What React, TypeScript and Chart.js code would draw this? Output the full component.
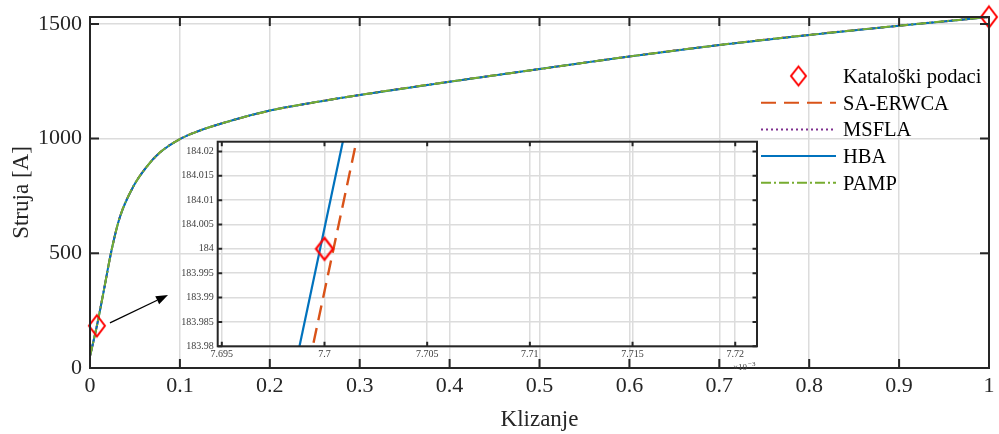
import React, { useEffect, useRef } from 'react';
import { Chart, registerables } from 'chart.js';

Chart.register(...registerables);

// ---------------- data (main plot) ----------------
const slip = [0, 0.0077, 0.015, 0.024, 0.033, 0.048, 0.063, 0.078, 0.1, 0.12, 0.15, 0.2, 0.25, 0.3, 0.4, 0.5, 0.6, 0.7, 0.8, 0.9, 1.0];
const saErwcaCurrent = [52, 184, 330, 514, 655, 790, 877, 940, 998, 1032, 1070, 1122, 1158, 1190, 1248, 1303, 1358, 1408, 1452, 1492, 1530];
const msflaCurrent = [52, 184, 330, 514, 655, 790, 877, 940, 998, 1032, 1070, 1122, 1158, 1190, 1248, 1303, 1358, 1408, 1452, 1492, 1530];
const hbaCurrent = [52, 184, 330, 514, 655, 790, 877, 940, 998, 1032, 1070, 1122, 1158, 1190, 1248, 1303, 1358, 1408, 1452, 1492, 1530];
const pampCurrent = [52, 184, 330, 514, 655, 790, 877, 940, 998, 1032, 1070, 1122, 1158, 1190, 1248, 1303, 1358, 1408, 1452, 1492, 1530];
const catalogSlip = [0.0077, 1.0];
const catalogCurrent = [184, 1530];

const xTicks = [0, 0.1, 0.2, 0.3, 0.4, 0.5, 0.6, 0.7, 0.8, 0.9, 1];
const xTickLabels = ['0', '0.1', '0.2', '0.3', '0.4', '0.5', '0.6', '0.7', '0.8', '0.9', '1'];
const yTicks = [0, 500, 1000, 1500];
const yTickLabels = ['0', '500', '1000', '1500'];

// arrow annotation (data units: slip, current)
const arrowSlip = [0.0222, 0.0868];
const arrowCurrent = [197, 318];

// ---------------- data (inset, slip in 1e-3) ----------------
const insetHbaSlip = [7.6985, 7.7015];
const insetHbaCurrent = [183.9744, 184.0341];
const insetSaErwcaSlip = [7.699, 7.702];
const insetSaErwcaCurrent = [183.9715, 184.0309];
const insetCatalogSlip = [7.7];
const insetCatalogCurrent = [184];

const insetXTicks = [7.695, 7.7, 7.705, 7.71, 7.715, 7.72];
const insetXTickLabels = ['7.695', '7.7', '7.705', '7.71', '7.715', '7.72'];
const insetYTicks = [183.98, 183.985, 183.99, 183.995, 184, 184.005, 184.01, 184.015, 184.02];
const insetYTickLabels = ['183.98', '183.985', '183.99', '183.995', '184', '184.005', '184.01', '184.015', '184.02'];

const FONT = "'Liberation Serif', 'DejaVu Serif', serif";
const AX = '#262626';
const GRID = '#dcdcdc';
const C_SA = '#D95319';
const C_MS = '#7E2F8E';
const C_HBA = '#0072BD';
const C_PAMP = '#77AC30';
const C_CAT = '#FF0000';

function makeDiamond(w: number, h: number, lw: number): HTMLCanvasElement {
  const c = document.createElement('canvas');
  c.width = Math.ceil(w + lw * 2 + 2);
  c.height = Math.ceil(h + lw * 2 + 2);
  const g = c.getContext('2d')!;
  const cx = c.width / 2, cy = c.height / 2;
  g.strokeStyle = C_CAT;
  g.lineWidth = lw;
  g.beginPath();
  g.moveTo(cx, cy - h / 2);
  g.lineTo(cx + w / 2, cy);
  g.lineTo(cx, cy + h / 2);
  g.lineTo(cx - w / 2, cy);
  g.closePath();
  g.stroke();
  return c;
}

const pts = (xs: number[], ys: number[]) => xs.map((x, i) => ({ x, y: ys[i] }));

const zeroPadH = (s: any, h: number) => { s.height = h; s.paddingLeft = 0; s.paddingRight = 0; };
const zeroPadV = (s: any, w: number) => { s.width = w; s.paddingTop = 0; s.paddingBottom = 0; };

export default function App() {
  const mainRef = useRef<HTMLCanvasElement>(null);
  const insetRef = useRef<HTMLCanvasElement>(null);

  useEffect(() => {
    const diamond = makeDiamond(16, 21, 2);
    const legendDiamond = makeDiamond(15, 19, 2);

    const legendItems = [
      { label: 'Katalo\u0161ki podaci', marker: true, color: C_CAT, dash: [] as number[] },
      { label: 'SA-ERWCA', marker: false, color: C_SA, dash: [15, 8] },
      { label: 'MSFLA', marker: false, color: C_MS, dash: [2, 3] },
      { label: 'HBA', marker: false, color: C_HBA, dash: [] as number[] },
      { label: 'PAMP', marker: false, color: C_PAMP, dash: [10, 3, 2, 3] },
    ];

    const mainDecor = {
      id: 'mainDecor',
      afterDraw(chart: any) {
        const { ctx, chartArea: a, scales } = chart;
        const sx = scales.x, sy = scales.y;
        ctx.save();
        // frame & inward ticks
        ctx.strokeStyle = AX;
        ctx.lineWidth = 2;
        ctx.setLineDash([]);
        ctx.beginPath();
        xTicks.forEach((v) => {
          const px = sx.getPixelForValue(v);
          ctx.moveTo(px, a.bottom); ctx.lineTo(px, a.bottom - 9);
          ctx.moveTo(px, a.top); ctx.lineTo(px, a.top + 9);
        });
        yTicks.forEach((v) => {
          const py = sy.getPixelForValue(v);
          ctx.moveTo(a.left, py); ctx.lineTo(a.left + 9, py);
          ctx.moveTo(a.right, py); ctx.lineTo(a.right - 9, py);
        });
        ctx.stroke();
        ctx.strokeRect(a.left, a.top, a.right - a.left, a.bottom - a.top);

        // arrow
        const x0 = sx.getPixelForValue(arrowSlip[0]);
        const y0 = sy.getPixelForValue(arrowCurrent[0]);
        const x1 = sx.getPixelForValue(arrowSlip[1]);
        const y1 = sy.getPixelForValue(arrowCurrent[1]);
        const ang = Math.atan2(y1 - y0, x1 - x0);
        const hl = 12, hw = 4.5;
        ctx.strokeStyle = '#000';
        ctx.fillStyle = '#000';
        ctx.lineWidth = 1.3;
        ctx.beginPath();
        ctx.moveTo(x0, y0);
        ctx.lineTo(x1 - hl * Math.cos(ang), y1 - hl * Math.sin(ang));
        ctx.stroke();
        ctx.beginPath();
        ctx.moveTo(x1, y1);
        ctx.lineTo(x1 - hl * Math.cos(ang) + hw * Math.sin(ang), y1 - hl * Math.sin(ang) - hw * Math.cos(ang));
        ctx.lineTo(x1 - hl * Math.cos(ang) - hw * Math.sin(ang), y1 - hl * Math.sin(ang) + hw * Math.cos(ang));
        ctx.closePath();
        ctx.fill();

        // legend
        const lx0 = a.right - 228;
        const lx1 = a.right - 153;
        const tx = a.right - 146;
        const rowY0 = a.top + 59;
        const rowStep = 26.7;
        ctx.font = `20.5px ${FONT}`;
        ctx.textAlign = 'left';
        ctx.textBaseline = 'alphabetic';
        legendItems.forEach((it, i) => {
          const cy = rowY0 + i * rowStep;
          if (it.marker) {
            const mx = (lx0 + lx1) / 2;
            ctx.drawImage(legendDiamond, mx - legendDiamond.width / 2, cy - legendDiamond.height / 2);
          } else {
            ctx.strokeStyle = it.color;
            ctx.lineWidth = 2;
            ctx.setLineDash(it.dash);
            ctx.beginPath();
            ctx.moveTo(lx0, cy);
            ctx.lineTo(lx1, cy);
            ctx.stroke();
            ctx.setLineDash([]);
          }
          ctx.fillStyle = '#000';
          ctx.fillText(it.label, tx, cy + 7);
        });
        ctx.restore();
      },
    };

    const insetDecor = {
      id: 'insetDecor',
      afterDraw(chart: any) {
        const { ctx, chartArea: a, scales } = chart;
        const sx = scales.x, sy = scales.y;
        ctx.save();
        ctx.strokeStyle = AX;
        ctx.lineWidth = 2;
        ctx.beginPath();
        insetXTicks.forEach((v) => {
          const px = sx.getPixelForValue(v);
          ctx.moveTo(px, a.bottom); ctx.lineTo(px, a.bottom - 4.5);
          ctx.moveTo(px, a.top); ctx.lineTo(px, a.top + 4.5);
        });
        insetYTicks.forEach((v) => {
          const py = sy.getPixelForValue(v);
          ctx.moveTo(a.left, py); ctx.lineTo(a.left + 4.5, py);
          ctx.moveTo(a.right, py); ctx.lineTo(a.right - 4.5, py);
        });
        ctx.stroke();
        ctx.strokeRect(a.left, a.top, a.right - a.left, a.bottom - a.top);
        // exponent label
        ctx.fillStyle = '#444';
        ctx.textBaseline = 'alphabetic';
        ctx.textAlign = 'left';
        ctx.font = `9px ${FONT}`;
        const ex = a.right - 24;
        ctx.fillText('\u00d710', ex, a.bottom + 24);
        ctx.font = `7px ${FONT}`;
        ctx.fillText('\u22123', ex + 15, a.bottom + 20);
        ctx.restore();
      },
    };

    const main = new Chart(mainRef.current!, {
      type: 'line',
      data: {
        datasets: [
          {
            label: 'Katalo\u0161ki podaci',
            data: pts(catalogSlip, catalogCurrent),
            showLine: false,
            pointStyle: diamond as any,
            pointRadius: 9,
            clip: false as any,
          },
          {
            label: 'PAMP',
            data: pts(slip, pampCurrent),
            borderColor: C_PAMP,
            borderWidth: 2,
            borderDash: [10, 3, 2, 3],
            pointRadius: 0,
            cubicInterpolationMode: 'monotone',
          },
          {
            label: 'HBA',
            data: pts(slip, hbaCurrent),
            borderColor: C_HBA,
            borderWidth: 2,
            pointRadius: 0,
            cubicInterpolationMode: 'monotone',
          },
          {
            label: 'MSFLA',
            data: pts(slip, msflaCurrent),
            borderColor: C_MS,
            borderWidth: 2,
            borderDash: [2, 3],
            pointRadius: 0,
            cubicInterpolationMode: 'monotone',
          },
          {
            label: 'SA-ERWCA',
            data: pts(slip, saErwcaCurrent),
            borderColor: C_SA,
            borderWidth: 2,
            borderDash: [15, 8],
            pointRadius: 0,
            cubicInterpolationMode: 'monotone',
          },
        ],
      },
      options: {
        responsive: false,
        animation: false,
        events: [],
        layout: { padding: { left: 0, right: 7, top: 17, bottom: 0 } },
        plugins: { legend: { display: false }, tooltip: { enabled: false } },
        scales: {
          x: {
            type: 'linear',
            min: 0,
            max: 1,
            afterBuildTicks: (s: any) => { s.ticks = xTicks.map((v) => ({ value: v })); },
            afterFit: (s: any) => zeroPadH(s, 66),
            ticks: {
              callback: (_v: any, i: number) => xTickLabels[i],
              font: { family: FONT, size: 22 },
              color: AX,
              padding: 5,
              maxRotation: 0,
              autoSkip: false,
            },
            grid: { color: GRID, lineWidth: 1.5, drawTicks: false },
            border: { display: false },
            title: {
              display: true,
              text: 'Klizanje',
              font: { family: FONT, size: 23 },
              color: AX,
              padding: { top: 0, bottom: 0 },
            },
          },
          y: {
            type: 'linear',
            min: 0,
            max: 1530,
            afterBuildTicks: (s: any) => { s.ticks = yTicks.map((v) => ({ value: v })); },
            afterFit: (s: any) => zeroPadV(s, 90),
            ticks: {
              callback: (_v: any, i: number) => yTickLabels[i],
              font: { family: FONT, size: 22 },
              color: AX,
              padding: 8,
              autoSkip: false,
            },
            grid: { color: GRID, lineWidth: 1.5, drawTicks: false },
            border: { display: false },
            title: {
              display: true,
              text: 'Struja [A]',
              font: { family: FONT, size: 23 },
              color: AX,
              padding: { top: 8, bottom: 0 },
            },
          },
        },
      },
      plugins: [mainDecor],
    } as any);

    const inset = new Chart(insetRef.current!, {
      type: 'line',
      data: {
        datasets: [
          {
            label: 'Katalo\u0161ki podaci',
            data: pts(insetCatalogSlip, insetCatalogCurrent),
            showLine: false,
            pointStyle: makeDiamond(17, 22, 2.2) as any,
            pointRadius: 9,
          },
          {
            label: 'HBA',
            data: pts(insetHbaSlip, insetHbaCurrent),
            borderColor: C_HBA,
            borderWidth: 2.2,
            pointRadius: 0,
          },
          {
            label: 'SA-ERWCA',
            data: pts(insetSaErwcaSlip, insetSaErwcaCurrent),
            borderColor: C_SA,
            borderWidth: 2.4,
            borderDash: [15, 8],
            pointRadius: 0,
          },
        ],
      },
      options: {
        responsive: false,
        animation: false,
        events: [],
        layout: { padding: { left: 0, right: 33, top: 16.7, bottom: 0 } },
        plugins: { legend: { display: false }, tooltip: { enabled: false } },
        scales: {
          x: {
            type: 'linear',
            min: 7.6948,
            max: 7.72106,
            afterBuildTicks: (s: any) => { s.ticks = insetXTicks.map((v) => ({ value: v })); },
            afterFit: (s: any) => zeroPadH(s, 28.7),
            ticks: {
              callback: (_v: any, i: number) => insetXTickLabels[i],
              font: { family: FONT, size: 10 },
              color: '#3c3c3c',
              padding: 2,
              maxRotation: 0,
              autoSkip: false,
            },
            grid: { color: GRID, lineWidth: 1.5, drawTicks: false },
            border: { display: false },
          },
          y: {
            type: 'linear',
            min: 183.98,
            max: 184.022,
            afterBuildTicks: (s: any) => { s.ticks = insetYTicks.map((v) => ({ value: v })); },
            afterFit: (s: any) => zeroPadV(s, 67.7),
            ticks: {
              callback: (_v: any, i: number) => insetYTickLabels[i],
              font: { family: FONT, size: 10 },
              color: '#3c3c3c',
              padding: 4,
              autoSkip: false,
            },
            grid: { color: GRID, lineWidth: 1.5, drawTicks: false },
            border: { display: false },
          },
        },
      },
      plugins: [insetDecor],
    } as any);

    return () => {
      main.destroy();
      inset.destroy();
    };
  }, []);

  return (
    <div style={{ position: 'fixed', left: 0, top: 0, width: 999, height: 434, background: '#fff' }}>
      <canvas ref={mainRef} width={999} height={434} style={{ position: 'absolute', left: 0, top: 0 }} />
      <canvas ref={insetRef} width={640} height={250} style={{ position: 'absolute', left: 150, top: 125 }} />
    </div>
  );
}
